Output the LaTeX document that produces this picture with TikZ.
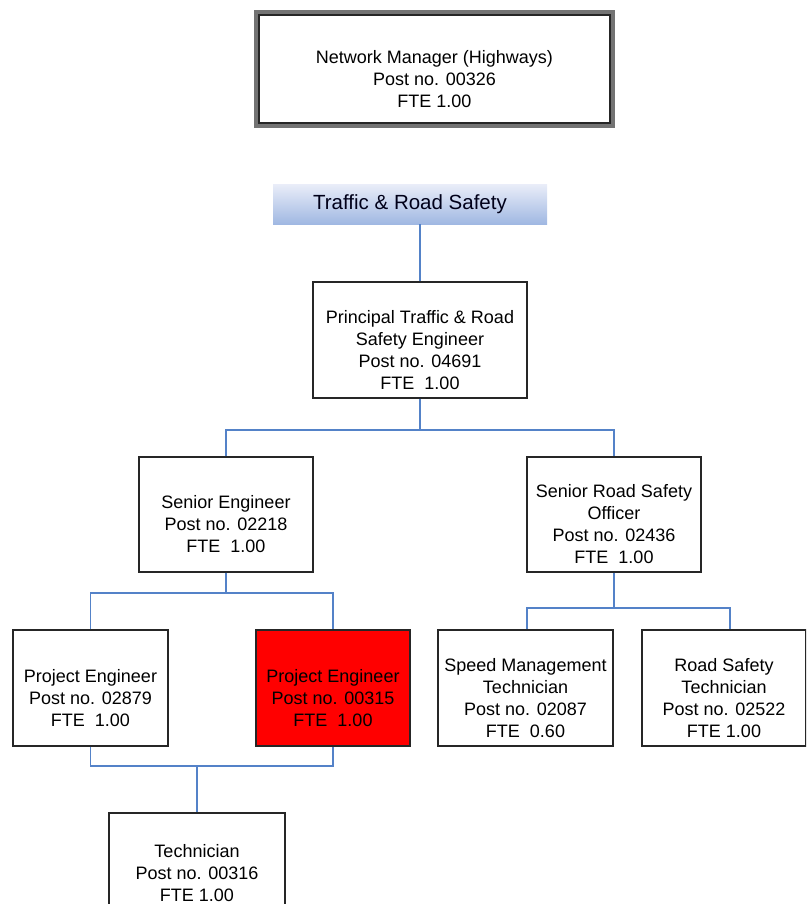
\documentclass[tikz,border=0pt]{standalone}
\usepackage{fontspec}
\setmainfont{Liberation Sans}
\usepackage{tikz}

\definecolor{linkblue}{RGB}{84,130,200}
\definecolor{headtop}{RGB}{232,236,248}
\definecolor{headbot}{RGB}{160,184,226}
\definecolor{postred}{RGB}{255,0,0}

\tikzset{
	post/.style={draw=black!85, line width=1.3pt, fill=white, align=center,
		font=\fontsize{18}{22}\selectfont, inner sep=2pt},
	link/.style={draw=linkblue, line width=1.8pt},
}

\begin{document}
\begin{tikzpicture}[x=1pt, y=-1pt]
	\useasboundingbox (0,0) rectangle (806,904);
	\clip (0,0) rectangle (806,904);

	% boxes (leading \\ lowers the text in its box)
	\node[post, minimum width=351pt, minimum height=108pt] (manager) at (434.5,69)
		{\\[11pt]Network Manager (Highways)\\Post no. 00326\\FTE 1.00};
	\draw[black!55, line width=3.5pt] ([shift={(-2.5pt,2.5pt)}]manager.north west)
		rectangle ([shift={(2.5pt,-2.5pt)}]manager.south east);

	\node[draw=none, top color=headtop, bottom color=headbot, minimum width=274pt,
		minimum height=39pt, text=black!90!blue, font=\fontsize{20.5}{22}\selectfont]
		(team) at (410,204.5) {Traffic \& Road Safety};

	\node[post, minimum width=214pt, minimum height=116pt] (principal) at (420,340)
		{\\[11pt]Principal Traffic \& Road\\Safety Engineer\\Post no. 04691\\FTE~~1.00};

	\node[post, minimum width=174pt, minimum height=115pt] (senEng) at (226,514.5)
		{\\[11pt]Senior Engineer\\Post no. 02218\\FTE~~1.00};
	\node[post, minimum width=174pt, minimum height=115pt] (senRSO) at (614,514.5)
		{\\[11pt]Senior Road Safety\\Officer\\Post no. 02436\\FTE~~1.00};

	\node[post, minimum width=155pt, minimum height=116pt] (projA) at (90.5,688)
		{\\[11pt]Project Engineer\\Post no. 02879\\FTE~~1.00};
	\node[post, fill=postred, minimum width=154pt, minimum height=116pt] (projB) at (333,688)
		{\\[11pt]Project Engineer\\Post no. 00315\\FTE~~1.00};
	\node[post, minimum width=175pt, minimum height=116pt] (speed) at (525.5,688)
		{\\[11pt]Speed Management\\Technician\\Post no. 02087\\FTE~~0.60};
	\node[post, minimum width=164pt, minimum height=116pt] (rsTech) at (724,688)
		{\\[11pt]Road Safety\\Technician\\Post no. 02522\\FTE 1.00};

	\node[post, minimum width=176pt, minimum height=120pt] (tech) at (197,873)
		{Technician\\Post no. 00316\\FTE 1.00};

	% bus points
	\coordinate (busA) at (420,430);
	\coordinate (busB) at (226,593);
	\coordinate (busC) at (614,608);
	\coordinate (busD) at (197,766);

	% connectors
	\draw[link] (principal.north) -- (principal.north |- team.south);
	\draw[link] (principal.south) -- (busA);
	\draw[link] (senEng.north) |- (busA) -| (senRSO.north);

	\draw[link] (senEng.south) -- (busB);
	\draw[link] (projA.north) |- (busB) -| (projB.north);

	\draw[link] (senRSO.south) -- (busC);
	\draw[link] ([xshift=1.5pt]speed.north) |- (busC) -| ([xshift=6pt]rsTech.north);

	\draw[link] (projA.south) |- (busD) -| (projB.south);
	\draw[link] (busD) -- (tech.north);

\end{tikzpicture}
\end{document}
